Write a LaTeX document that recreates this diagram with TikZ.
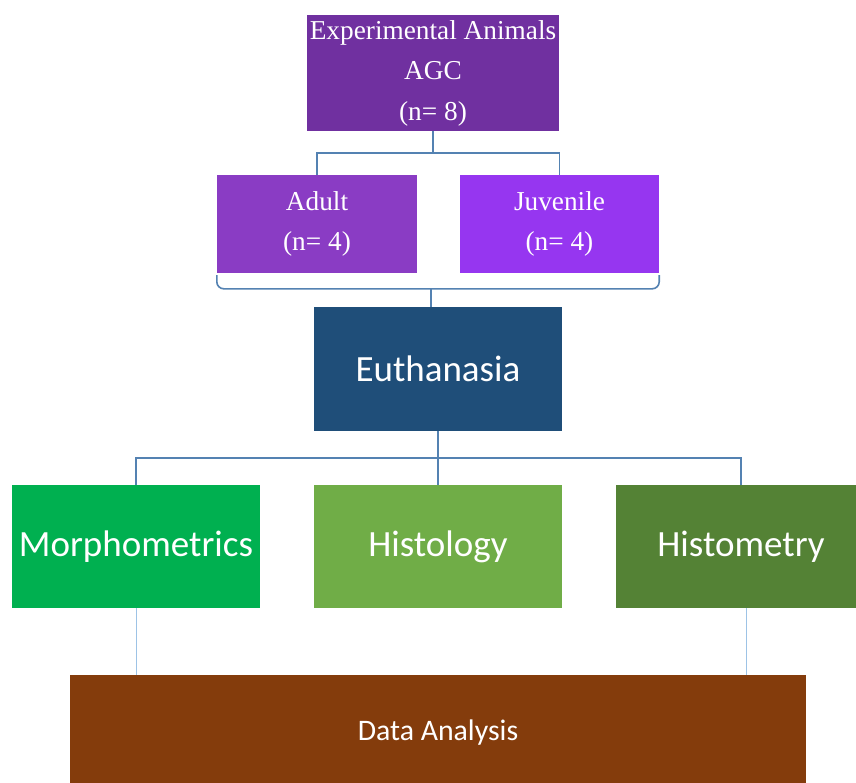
\documentclass[tikz,border=0pt]{standalone}
\usepackage{fontspec}
\setmainfont{Liberation Serif}
\newfontfamily\calibri{Carlito}
\usetikzlibrary{positioning}
\definecolor{animalpurple}{RGB}{112,48,160}
\definecolor{adultpurple}{RGB}{138,60,196}
\definecolor{juvpurple}{RGB}{150,54,240}
\definecolor{euthblue}{RGB}{31,78,121}
\definecolor{morphgreen}{RGB}{0,176,80}
\definecolor{histogreen}{RGB}{112,173,71}
\definecolor{histmgreen}{RGB}{84,130,53}
\definecolor{databrown}{RGB}{132,60,12}
\definecolor{linkblue}{RGB}{84,130,178}
\definecolor{linklight}{RGB}{157,195,230}
\tikzset{
  groupbox/.style={fill=#1, text=white, inner sep=0pt, align=center,
    font=\fontsize{27.3}{40.5}\selectfont},
  stagebox/.style={fill=#1, text=white, inner sep=0pt, align=center,
    font=\calibri\fontsize{37}{40}\selectfont},
  link/.style={draw=linkblue, line width=1.6pt},
  thinlink/.style={draw=linklight, line width=0.9pt}}

\begin{document}
\begin{tikzpicture}[x=1pt, y=-1pt]
  \useasboundingbox[fill=white] (0,0) rectangle (856,782);
  \node[groupbox=animalpurple, minimum width=252, minimum height=116] (animals) at (433,73)
       {Experimental Animals\\AGC\\(n= 8)};
  \node[groupbox=adultpurple, minimum width=200, minimum height=98] (adult) at (317,224)
       {Adult\\(n= 4)};
  \node[groupbox=juvpurple, minimum width=199, minimum height=98] (juvenile) at (559.5,224)
       {Juvenile\\(n= 4)};
  \node[stagebox=euthblue, minimum width=248, minimum height=124] (euth) at (438,369) {Euthanasia};
  \node[stagebox=morphgreen, minimum width=248, minimum height=123] (morph) at (136,546.5) {Morphometrics};
  \node[stagebox=histogreen, minimum width=248, minimum height=123] (histo) at (438,546.5) {Histology};
  \node[stagebox=histmgreen, minimum width=250, minimum height=123] (histm) at (741,546.5) {Histometry};
  \node[stagebox=databrown, minimum width=736, minimum height=116,
        font=\calibri\fontsize{29.8}{32}\selectfont] (data) at (438,733) {Data Analysis};
  \coordinate (brace) at ([xshift=-7pt, yshift=18pt]euth.north);

  \draw[link] (animals.south) -- ++(0,22) -| (adult.north);
  \draw[link] (animals.south) -- ++(0,22) -| (juvenile.north);
  \draw[link, rounded corners=7pt] ([yshift=-2pt]adult.south west) |- (brace);
  \draw[link, rounded corners=7pt] ([yshift=-2pt]juvenile.south east) |- (brace);
  \draw[link] (brace) -- (brace |- euth.north);
  \draw[link] (euth.south) -- ++(0,27) -| (morph.north);
  \draw[link] (euth.south) -- (histo.north);
  \draw[link] (euth.south) -- ++(0,27) -| (histm.north);
  \draw[thinlink] (morph.south) -- (morph.south |- data.north);
  \draw[thinlink] ([xshift=5pt]histm.south) -- ([xshift=5pt]histm.south |- data.north);
\end{tikzpicture}
\end{document}
